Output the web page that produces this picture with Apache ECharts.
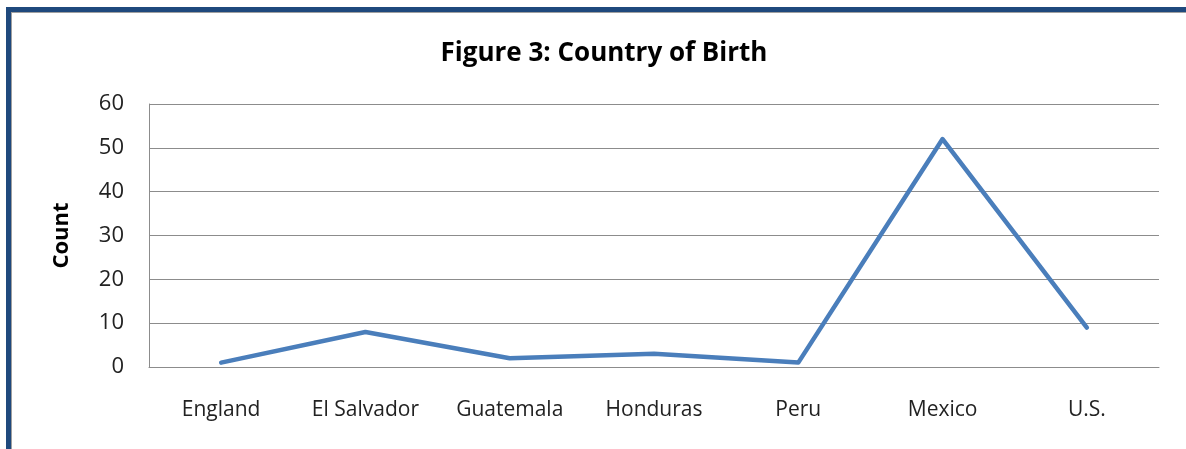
<!DOCTYPE html>
<html>
<head>
<meta charset="utf-8">
<script src="https://cdn.jsdelivr.net/npm/echarts@6/dist/echarts.min.js"></script>
<style>
  html, body { margin: 0; padding: 0; background: #fff; }
  #chart { width: 1186px; height: 449px; }
</style>
</head>
<body>
<div id="chart"></div>
<script>
// data
const countries = ['England', 'El Salvador', 'Guatemala', 'Honduras', 'Peru', 'Mexico', 'U.S.'];
const counts = [1, 8, 2, 3, 1, 52, 9];
const yTicks = [0, 10, 20, 30, 40, 50, 60];

const chart = echarts.init(document.getElementById('chart'));
chart.setOption({
  animation: false,
  graphic: [
    // frame: dark blue edge with thin grey inner line (top and left only)
    { type: 'rect', shape: { x: 6, y: 7, width: 1180, height: 5 }, style: { fill: '#1f497d' } },
    { type: 'rect', shape: { x: 6, y: 7, width: 5, height: 442 }, style: { fill: '#1f497d' } },
    { type: 'rect', shape: { x: 11, y: 12, width: 1175, height: 1 }, style: { fill: '#a0a0a0' } },
    { type: 'rect', shape: { x: 11, y: 12, width: 1, height: 437 }, style: { fill: '#a0a0a0' } }
  ],
  title: {
    text: 'Figure 3: Country of Birth',
    left: 599,
    textAlign: 'center',
    top: 36,
    textStyle: { fontFamily: 'Open Sans', fontWeight: 'bold', fontSize: 26, color: '#000' }
  },
  grid: { left: 149, right: 27, top: 104, bottom: 82 },
  xAxis: {
    type: 'category',
    data: countries,
    boundaryGap: true,
    axisLine: { lineStyle: { color: '#8c8c8c', width: 1 } },
    axisTick: { show: false },
    axisLabel: { interval: 0, color: '#222', fontFamily: 'Open Sans', fontSize: 21, margin: 33 }
  },
  yAxis: {
    type: 'value',
    min: yTicks[0],
    max: yTicks[yTicks.length - 1],
    interval: 10,
    name: 'Count',
    nameLocation: 'middle',
    nameGap: 76,
    nameRotate: 90,
    nameTextStyle: { fontFamily: 'Open Sans', fontWeight: 'bold', fontSize: 22, color: '#000' },
    axisLine: { show: true, lineStyle: { color: '#8c8c8c', width: 1 } },
    axisTick: { show: false },
    axisLabel: { color: '#222', fontFamily: 'Open Sans', fontSize: 22, margin: 25 },
    splitLine: { lineStyle: { color: '#8c8c8c', width: 1 } }
  },
  series: [{
    type: 'line',
    data: counts,
    symbol: 'none',
    lineStyle: { color: '#4a7ebb', width: 4.5, cap: 'round', join: 'round' }
  }]
});
</script>
</body>
</html>
